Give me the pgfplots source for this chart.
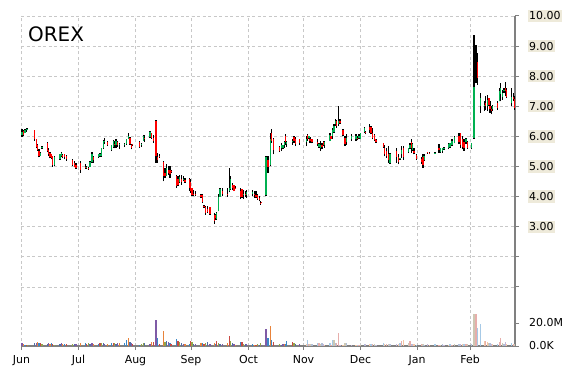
\documentclass[border=0pt]{standalone}
\usepackage{pgfplots}
\pgfplotsset{compat=1.18}
\usepackage{pgfplotstable}
\usepackage{fontspec}
\setmainfont{DejaVu Sans}
\definecolor{upg}{RGB}{0,176,80}
\definecolor{dnr}{RGB}{255,0,0}
\definecolor{axisgray}{RGB}{128,128,128}
\definecolor{gridgray}{RGB}{200,200,200}
\definecolor{tickbg}{RGB}{238,234,218}
\definecolor{vc0}{RGB}{127,91,166}
\definecolor{vc1}{RGB}{232,131,58}
\definecolor{vc2}{RGB}{58,135,200}
\definecolor{vc3}{RGB}{201,74,68}
\definecolor{vc4}{RGB}{147,165,72}
\definecolor{vc5}{RGB}{79,111,168}
\colorlet{vc6}{vc0!45!white}
\colorlet{vc7}{vc1!45!white}
\colorlet{vc8}{vc2!45!white}
\colorlet{vc9}{vc3!45!white}
\definecolor{vc10}{RGB}{205,200,180}
\colorlet{vc11}{vc5!45!white}
\pgfplotstableread{
x o h l c v k
22 6.05 6.25 5.97 6.15 3.0 0
23.5 6.18 6.2 6.0 6.05 1.5 1
25 6.12 6.25 6.1 6.22 1.0 2
26.3 6.2 6.28 6.15 6.25 0.8 3
27.3 6.22 6.27 6.2 6.25 0.5 4
34.7 6.2 6.21 5.86 5.9 2.5 5
36.7 5.9 5.93 5.6 5.65 3.0 0
37.7 5.7 5.74 5.52 5.55 3.2 1
39 5.5 5.58 5.3 5.35 2.8 2
40.7 5.36 5.47 5.35 5.45 2.5 3
42 5.6 5.69 5.58 5.65 1.5 4
47.3 5.78 5.8 5.47 5.5 2.0 5
48.7 5.55 5.6 5.36 5.4 2.5 0
50 5.45 5.49 5.27 5.3 1.5 1
51.3 5.4 5.43 5.24 5.28 2.8 2
52.7 5.35 5.36 5.0 5.05 2.0 3
54.3 5.05 5.36 5.02 5.3 1.2 4
60 5.25 5.43 5.22 5.4 1.5 5
61.3 5.35 5.49 5.3 5.45 2.5 0
62.7 5.38 5.41 5.27 5.32 2.0 1
64.7 5.4 5.43 5.24 5.3 1.8 2
66.7 5.35 5.38 5.19 5.25 1.5 3
72.3 5.22 5.24 5.02 5.05 1.5 4
74.3 5.1 5.19 4.97 5.0 1.8 5
76 5.05 5.13 4.91 4.95 1.5 0
80.3 5.1 5.19 4.8 4.9 3.0 1
85.3 5.0 5.08 4.93 4.98 2.5 2
86.7 4.95 5.02 4.91 5.0 1.5 3
88.3 4.95 5.0 4.89 4.92 2.5 4
90 4.98 5.19 4.97 5.15 1.5 5
92 5.15 5.47 5.13 5.4 2.5 0
93.3 5.3 5.36 5.13 5.2 2.0 1
98.7 5.3 5.43 5.29 5.4 2.0 2
100 5.35 5.45 5.3 5.42 2.5 3
101.7 5.35 5.63 5.32 5.6 2.5 4
103.3 5.6 5.88 5.59 5.85 2.5 5
104.3 5.8 5.96 5.74 5.85 1.5 0
107.3 5.8 5.84 5.68 5.72 2.0 1
111.7 5.55 5.73 5.51 5.7 2.5 2
113.3 5.65 5.87 5.62 5.85 2.5 3
114.7 5.75 5.84 5.6 5.7 2.5 4
116 5.7 5.9 5.62 5.85 1.5 5
117.7 5.8 5.84 5.64 5.7 2.5 0
119.3 5.7 5.79 5.59 5.75 2.5 1
124.3 5.7 5.79 5.64 5.75 3.0 2
126.7 5.75 5.93 5.73 5.9 5.0 2
128.3 5.92 6.12 5.9 6.0 7.0 1
130 5.95 5.98 5.73 5.75 3.5 5
131.3 5.7 5.76 5.57 5.6 2.5 0
132.3 5.75 5.76 5.68 5.7 2.0 3
139.7 5.82 5.84 5.62 5.65 1.0 2
141.3 5.7 5.79 5.66 5.75 1.5 4
143.3 5.85 6.04 5.84 6.0 2.5 4
144.7 5.95 6.06 5.82 5.9 2.5 5
150 5.98 6.18 5.96 6.15 2.0 0
151.7 6.1 6.12 5.92 5.95 3.5 1
153.3 5.95 6.04 5.79 5.85 3.5 3
156 6.5 6.53 5.12 5.35 22.6 0
157.7 5.3 5.46 5.12 5.2 7.2 2
159.3 5.35 5.42 5.29 5.32 2.0 3
163.3 5.15 5.18 4.51 4.7 13.3 1
165 4.8 4.96 4.62 4.7 3.5 4
166.7 4.7 5.07 4.68 4.95 4.5 5
168.3 4.9 5.01 4.73 4.8 3.5 0
170 4.9 5.01 4.62 4.75 2.5 2
171 4.85 4.9 4.79 4.82 1.5 3
176.7 4.7 4.73 4.29 4.35 6.0 2
178 4.6 4.68 4.34 4.4 4.0 3
179.7 4.5 4.71 4.46 4.65 3.5 4
181.3 4.6 4.73 4.4 4.5 3.0 5
183.3 4.55 4.68 4.51 4.6 2.0 0
185 4.55 4.62 4.46 4.5 1.5 1
189.3 4.6 4.62 4.18 4.3 1.5 2
190.7 4.5 4.57 4.12 4.2 4.0 3
192 4.28 4.29 4.03 4.05 3.5 4
193.3 4.1 4.23 4.01 4.05 2.0 5
195.3 4.1 4.18 4.01 4.05 1.5 0
201 4.05 4.1 3.96 4.0 2.5 1
202.3 4.05 4.07 3.79 3.82 2.5 2
204 3.7 3.73 3.62 3.65 1.5 3
205.3 3.65 3.7 3.4 3.45 3.0 4
207.3 3.6 3.68 3.46 3.5 3.5 5
210 3.64 3.66 3.4 3.42 1.5 0
214.3 3.4 3.46 3.1 3.2 2.5 1
215.7 3.4 3.43 3.23 3.28 2.0 2
216.7 3.25 3.48 3.23 3.45 4.0 3
218.3 3.52 4.07 3.51 4.0 3.0 4
220 4.0 4.29 3.99 4.25 2.0 5
222.3 4.2 4.29 4.01 4.1 1.5 0
227.7 4.1 4.29 3.99 4.05 3.0 1
229.3 4.2 4.96 4.14 4.3 9.0 3
230.7 4.25 4.68 4.23 4.6 4.5 4
232.3 4.4 4.46 4.23 4.3 2.5 5
234 4.38 4.4 4.18 4.2 1.5 0
235.7 4.3 4.34 4.26 4.28 1.0 1
240.7 4.2 4.29 3.92 4.0 3.5 2
242 4.25 4.26 3.96 4.0 3.5 3
243.3 4.05 4.23 3.92 4.1 1.5 4
245.3 4.1 4.18 3.99 4.05 2.0 5
246.7 4.05 4.23 3.96 4.15 1.5 0
252.7 4.1 4.21 4.03 4.15 1.5 2
254.3 4.1 4.18 3.96 4.05 1.0 1
256 4.05 4.18 3.96 4.0 0.8 3
257.7 4.05 4.1 3.9 3.92 1.5 4
259.3 3.95 4.01 3.84 3.88 1.0 5
260.3 3.8 3.84 3.73 3.76 2.5 4
261.7 3.81 3.81 3.78 3.79 1.0 0
266 4.05 5.36 4.03 5.3 15.0 0
268 5.2 5.34 4.79 5.0 6.7 2
270.3 5.05 6.12 5.01 5.9 17.0 1
271.7 6.1 6.23 5.79 5.85 5.0 2
273.3 5.9 5.96 5.4 5.55 3.5 3
279.3 5.65 5.68 5.48 5.5 1.5 4
281.3 5.6 5.77 5.51 5.7 1.0 5
283 5.6 5.73 5.57 5.7 2.0 0
284.3 5.7 5.84 5.62 5.8 1.5 1
285.7 6.0 6.07 5.73 5.8 1.5 2
286.7 5.75 5.84 5.66 5.8 4.0 2
292.3 5.8 5.92 5.73 5.85 3.5 3
294 5.98 6.03 5.79 5.85 3.0 4
295.7 5.9 5.99 5.68 5.75 2.0 5
299.7 5.9 5.92 5.73 5.78 1.5 0
306.3 5.8 6.01 5.68 5.9 2.0 7
307.7 6.05 6.07 5.84 5.9 5.0 8
309 5.95 6.03 5.9 6.0 2.0 9
310 5.9 5.98 5.79 5.85 1.5 10
312 5.9 5.92 5.77 5.8 2.0 11
317.7 5.8 5.9 5.68 5.75 3.0 8
319 5.65 5.79 5.62 5.75 2.5 9
320.3 5.6 5.84 5.51 5.7 2.0 10
322 5.7 5.79 5.57 5.65 2.5 11
323.3 5.82 5.84 5.68 5.72 1.5 6
324.7 5.7 5.84 5.62 5.8 1.0 7
330 5.85 6.12 5.84 6.05 2.5 8
331 6.0 6.01 5.9 5.92 1.0 9
332.7 6.0 6.29 5.92 6.2 5.0 8
334 6.15 6.4 6.12 6.35 5.5 10
335.3 6.4 6.57 6.34 6.5 3.0 11
336.7 6.5 6.54 6.29 6.35 3.0 9
338.3 6.4 7.01 6.34 6.5 11.5 9
340 6.5 6.57 6.4 6.45 1.0 6
343 6.2 6.23 6.01 6.05 1.0 7
345 5.95 6.01 5.68 5.75 3.0 10
346.7 5.8 6.07 5.73 5.95 3.0 11
351.7 5.9 6.07 5.84 6.0 1.0 6
356 5.9 6.07 5.84 6.0 1.0 7
357.7 5.95 6.01 5.87 5.9 0.8 8
359 5.95 6.07 5.9 6.0 1.0 9
360.3 5.92 6.12 5.9 6.1 1.0 10
364.3 6.15 6.31 6.12 6.28 1.5 11
365.7 6.15 6.18 6.07 6.1 1.5 6
369.3 6.3 6.4 6.12 6.2 1.5 7
371 6.3 6.34 6.07 6.1 1.5 8
372.7 6.1 6.29 5.9 5.95 1.5 9
374.3 6.05 6.07 5.84 5.88 1.5 10
375.7 5.9 5.93 5.79 5.82 1.0 11
376.7 5.88 5.9 5.79 5.8 1.0 6
383.3 5.78 5.79 5.62 5.65 2.5 8
384.7 5.6 5.73 5.34 5.4 1.5 7
386.7 5.5 5.62 5.29 5.35 2.0 9
388.3 5.4 5.68 5.12 5.2 1.5 10
390 5.12 5.46 5.09 5.4 1.5 11
396.7 5.5 5.62 5.12 5.3 1.5 6
398.3 5.3 5.4 5.07 5.15 2.0 7
400 5.24 5.29 5.23 5.28 2.5 8
401.7 5.4 5.68 5.29 5.55 4.5 9
403.3 5.6 5.68 5.23 5.3 5.0 7
408.3 5.47 5.62 5.46 5.6 2.5 10
410 5.6 5.79 5.57 5.7 4.0 9
411.3 5.8 5.93 5.46 5.6 2.0 11
412.7 5.55 5.79 5.51 5.75 1.5 6
414 5.5 5.62 5.4 5.45 1.5 7
416.3 5.38 5.4 5.23 5.25 1.0 8
421.7 5.25 5.31 5.09 5.15 1.5 9
423 5.3 5.4 4.96 5.05 1.5 10
424 5.2 5.4 5.18 5.35 1.0 11
427.3 5.48 5.48 5.43 5.44 1.5 6
429.3 5.45 5.48 5.41 5.44 1.0 7
435 5.44 5.48 5.41 5.45 1.5 8
439 5.6 5.74 5.46 5.55 1.0 9
440.7 5.48 5.63 5.46 5.6 1.0 10
442.3 5.5 5.63 5.46 5.6 1.5 11
444 5.58 5.66 5.55 5.62 1.0 6
448.3 5.6 5.79 5.57 5.75 1.0 7
450 5.65 5.79 5.63 5.77 1.5 8
452 5.7 5.9 5.68 5.85 1.0 9
454.3 5.78 6.01 5.77 5.98 1.5 10
459 6.0 6.1 5.74 5.8 1.5 11
460.7 6.1 6.12 5.63 5.7 2.0 6
462.3 5.9 6.01 5.57 5.65 2.0 7
464 5.8 5.9 5.52 5.6 2.0 8
466 5.8 5.96 5.74 5.9 2.0 9
467.7 5.82 5.85 5.59 5.62 1.5 10
471.7 5.6 5.79 5.57 5.77 2.0 11
474 5.95 9.36 5.92 7.64 28.0 10
476 8.0 9.03 7.77 8.0 28.0 9
477.7 8.48 8.76 7.71 7.93 16.0 8
480.3 7.0 7.44 6.78 7.27 19.0 8
484.3 7.0 7.16 6.84 7.05 4.5 7
485.7 7.1 7.33 6.89 7.0 4.0 9
487.3 7.0 7.38 6.84 7.2 3.5 7
489 7.27 7.27 7.0 7.05 3.0 10
490 7.0 7.16 6.78 6.9 3.0 11
491.7 6.9 7.0 6.73 6.85 1.5 6
492.7 6.9 7.05 6.84 7.0 1.5 7
497.7 7.1 7.16 6.89 6.95 2.0 8
499.3 7.16 7.6 7.16 7.5 3.5 9
500.7 7.4 7.77 7.16 7.6 7.0 9
502.3 7.3 7.55 7.22 7.45 2.5 10
504 7.5 7.6 7.44 7.55 2.0 11
505.3 7.6 7.82 7.33 7.5 3.5 6
506.7 7.55 7.6 7.27 7.3 1.5 7
511.7 7.1 7.6 7.0 7.3 3.0 8
513.3 7.3 7.44 7.16 7.25 1.5 9
514.7 7.25 7.33 6.89 6.95 1.5 10
}\bars
\pgfplotsset{
  vol/.style={draw=none, fill=none, mark=none, forget plot,
    restrict expr to domain={\thisrow{k}}{#1:#1},
    error bars/.cd, y dir=plus, y explicit, error mark=none,
    error bar style={solid, draw=vc#1, line width=1.2pt}},
  bar/.style={draw=none, fill=none, mark=none, forget plot,
    error bars/.cd, y dir=plus, y explicit, error mark=none,
    error bar style={solid, draw=#1, line width=1.2pt}},
}
\begin{document}
\begin{tikzpicture}
\useasboundingbox (-21bp,-24bp) rectangle (549bp,346bp);
\begin{axis}[
  at={(0,0)}, anchor=south west, scale only axis,
  width=494bp, height=330bp,
  xmin=21, xmax=515, ymin=-0.963, ymax=10,
  axis x line*=bottom, axis y line*=right,
  axis line style={draw=axisgray, line width=1.2pt, -},
  tick align=outside, major tick length=4bp, minor tick length=4bp,
  tick style={draw=axisgray, line width=1pt},
  xtick={21.5,78.5,135.5,191,248.5,303.5,360.5,417,470},
  xticklabels={Jun,Jul,Aug,Sep,Oct,Nov,Dec,Jan,Feb},
  ytick={3,4,5,6,7,8,9,10},
  yticklabels={3.00,4.00,5.00,6.00,7.00,8.00,9.00,10.00},
  minor ytick={1,2},
  extra y ticks={-0.199,-0.963},
  extra y tick labels={20.0M,0.0K},
  extra y tick style={grid=none, yticklabel style={fill=none}},
  grid=both,
  grid style={draw=gridgray, line width=0.8pt, dash pattern=on 3bp off 2.5bp},
  minor grid style={draw=gridgray, line width=0.8pt, dash pattern=on 3bp off 2.5bp},
  tick label style={font=\fontsize{11}{13}\selectfont, text=black},
  yticklabel style={anchor=west, fill=tickbg, inner xsep=1pt, inner ysep=2pt, xshift=9bp},
  xticklabel style={anchor=north, inner sep=0pt, yshift=-5bp},
  clip=false,
]
\addplot[vol=0] table[x=x, y expr=-0.963, y error plus expr=0.0382*\thisrow{v}] {\bars};
\addplot[vol=1] table[x=x, y expr=-0.963, y error plus expr=0.0382*\thisrow{v}] {\bars};
\addplot[vol=2] table[x=x, y expr=-0.963, y error plus expr=0.0382*\thisrow{v}] {\bars};
\addplot[vol=3] table[x=x, y expr=-0.963, y error plus expr=0.0382*\thisrow{v}] {\bars};
\addplot[vol=4] table[x=x, y expr=-0.963, y error plus expr=0.0382*\thisrow{v}] {\bars};
\addplot[vol=5] table[x=x, y expr=-0.963, y error plus expr=0.0382*\thisrow{v}] {\bars};
\addplot[vol=6] table[x=x, y expr=-0.963, y error plus expr=0.0382*\thisrow{v}] {\bars};
\addplot[vol=7] table[x=x, y expr=-0.963, y error plus expr=0.0382*\thisrow{v}] {\bars};
\addplot[vol=8] table[x=x, y expr=-0.963, y error plus expr=0.0382*\thisrow{v}] {\bars};
\addplot[vol=9] table[x=x, y expr=-0.963, y error plus expr=0.0382*\thisrow{v}] {\bars};
\addplot[vol=10] table[x=x, y expr=-0.963, y error plus expr=0.0382*\thisrow{v}] {\bars};
\addplot[vol=11] table[x=x, y expr=-0.963, y error plus expr=0.0382*\thisrow{v}] {\bars};
% high-low wicks
\addplot[bar=black] table[x=x, y=l, y error plus expr=\thisrow{h}-\thisrow{l}] {\bars};
% up bodies
\addplot[restrict expr to domain={\thisrow{c}-\thisrow{o}}{0.001:100}, bar=upg] table[x=x, y=o, y error plus expr=\thisrow{c}-\thisrow{o}] {\bars};
% down bodies
\addplot[restrict expr to domain={\thisrow{o}-\thisrow{c}}{0.001:100}, bar=dnr] table[x=x, y=c, y error plus expr=\thisrow{o}-\thisrow{c}] {\bars};
\node[anchor=base west, inner sep=0pt, font=\fontsize{20}{24}\selectfont, xshift=7bp, yshift=-26bp] at (rel axis cs:0,1) {OREX};
\end{axis}
\end{tikzpicture}
\end{document}
